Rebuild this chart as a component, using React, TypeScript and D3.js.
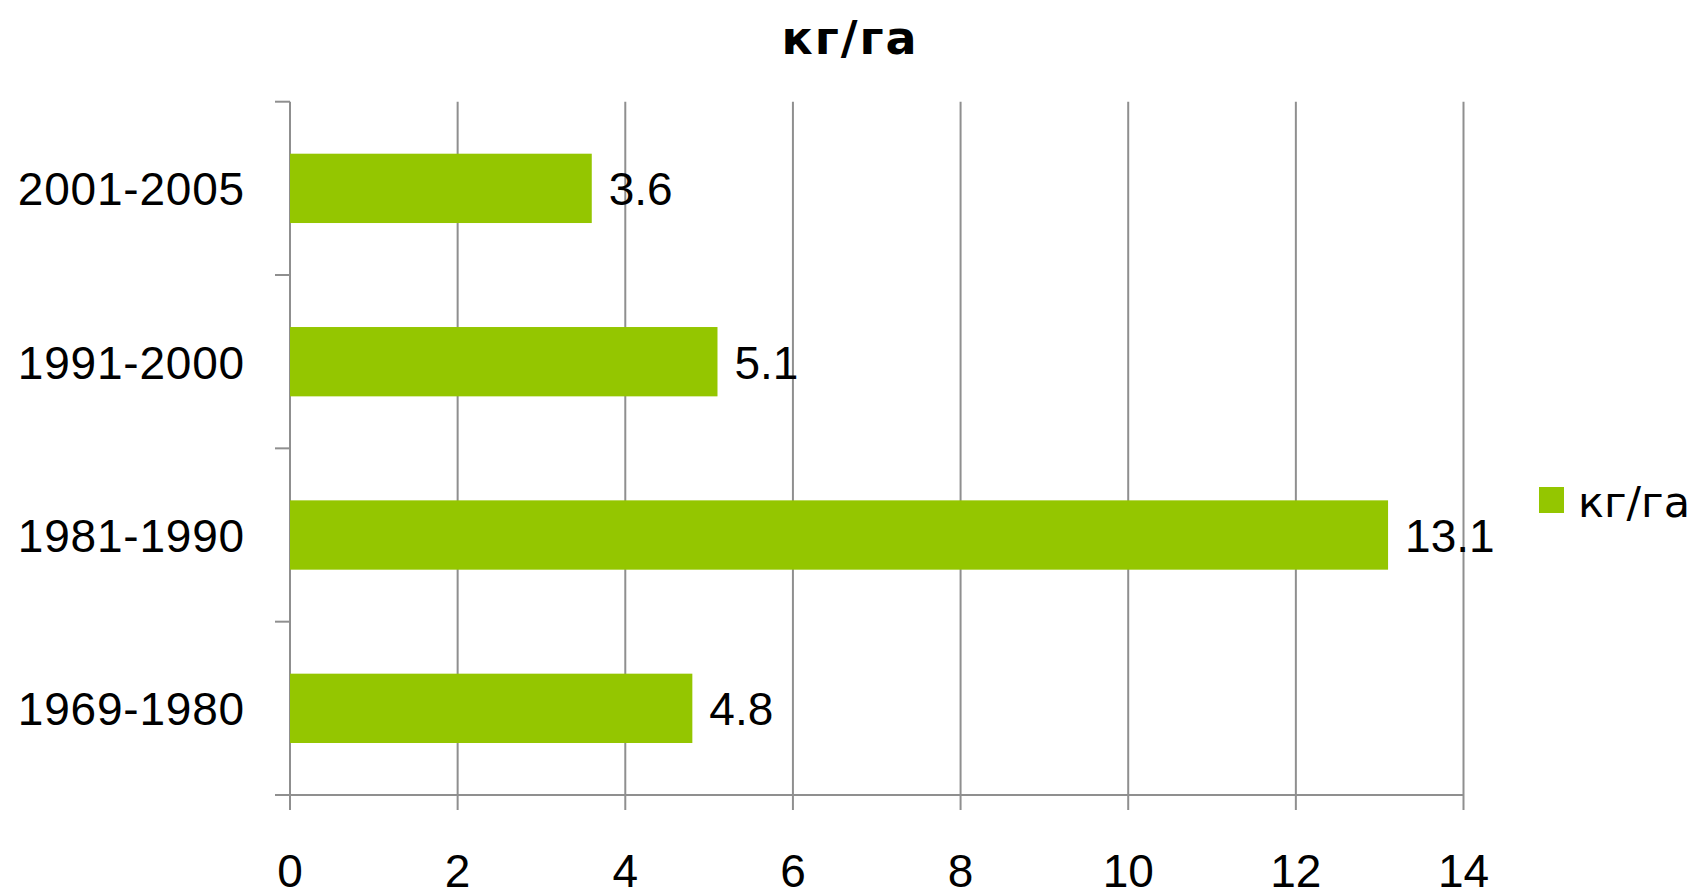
import React from "react";
import * as d3 from "d3";

const categories = ["2001-2005", "1991-2000", "1981-1990", "1969-1980"];
const values = [3.6, 5.1, 13.1, 4.8];
const xTicks = [0, 2, 4, 6, 8, 10, 12, 14];
const seriesName = "кг/га";
const title = "кг/га";

const W = 1695;
const H = 894;
const FONT = "'Liberation Sans', Arial, sans-serif";
const FONT_CYR = "'DejaVu Sans', sans-serif";
const GRID = "#8f8f8f";
const BAR = "#94c600";

export default function App() {
  const left = 290;
  const right = 1463.5;
  const top = 101.7;
  const bottom = 795;

  const x = d3.scaleLinear().domain([0, 14]).range([left, right]);
  const y = d3
    .scaleBand<string>()
    .domain(categories)
    .range([top, bottom])
    .paddingInner(0.6)
    .paddingOuter(0.3);
  const bounds = d3.range(categories.length + 1).map((i) => top + (i * (bottom - top)) / categories.length);

  return (
    <svg width={W} height={H} style={{ position: "absolute", left: 0, top: 0, background: "#fff" }}>
      <text x={850} y={54} textAnchor="middle" fontFamily={FONT_CYR} fontWeight="bold" fontSize={46} letterSpacing={2} fill="#000">
        {title}
      </text>
      {/* vertical gridlines and tick marks */}
      {xTicks.map((t) => (
        <line key={t} x1={x(t)} x2={x(t)} y1={top} y2={bottom + 15} stroke={GRID} strokeWidth={2} />
      ))}
      {/* category boundary ticks */}
      {bounds.map((b, i) => (
        <line key={i} x1={left - 15} x2={left} y1={b} y2={b} stroke={GRID} strokeWidth={2} />
      ))}
      <line x1={left} x2={right} y1={bottom} y2={bottom} stroke={GRID} strokeWidth={2} />
      {categories.map((c, i) => (
        <g key={c}>
          <rect x={x(0)} y={y(c)!} width={x(values[i]) - x(0)} height={y.bandwidth()} fill={BAR} />
          <text
            x={x(values[i]) + 17}
            y={y(c)! + y.bandwidth() / 2 + 17}
            fontFamily={FONT}
            fontSize={46}
            fill="#000"
          >
            {values[i]}
          </text>
          <text
            x={245}
            y={y(c)! + y.bandwidth() / 2 + 17}
            textAnchor="end"
            fontFamily={FONT}
            fontSize={46}
            letterSpacing={0.8}
            fill="#000"
          >
            {c}
          </text>
        </g>
      ))}
      {xTicks.map((t) => (
        <text key={t} x={x(t)} y={887} textAnchor="middle" fontFamily={FONT} fontSize={46} fill="#000">
          {t}
        </text>
      ))}
      <rect x={1539} y={487} width={25} height={26} fill={BAR} />
      <text x={1578} y={517} fontFamily={FONT_CYR} fontSize={43} fill="#000">
        {seriesName}
      </text>
    </svg>
  );
}
